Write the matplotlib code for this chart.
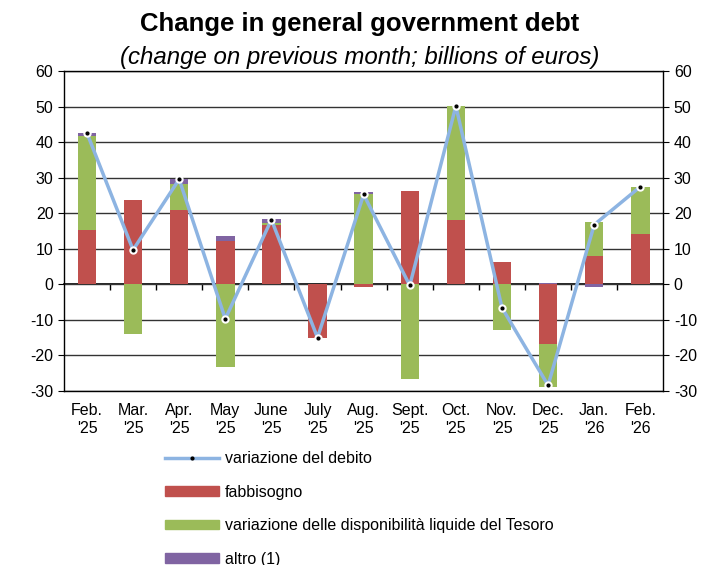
import numpy as np
import matplotlib.pyplot as plt
from matplotlib.lines import Line2D
from matplotlib.patches import Patch

plt.rcParams['font.family'] = ['Liberation Sans', 'DejaVu Sans']
plt.rcParams['axes.unicode_minus'] = False

months = ["Feb.\n'25", "Mar.\n'25", "Apr.\n'25", "May\n'25", "June\n'25", "July\n'25",
          "Aug.\n'25", "Sept.\n'25", "Oct.\n'25", "Nov.\n'25", "Dec.\n'25", "Jan.\n'26", "Feb.\n'26"]
fabbisogno = [15.4, 23.8, 20.8, 12.3, 16.6, -15.0, -0.7, 26.3, 18.1, 6.3, -16.9, 7.9, 14.3]
liquidita = [26.4, -14.1, 7.4, -23.3, 0.7, 0.0, 25.5, -26.6, 32.1, -12.9, -12.0, 9.6, 13.2]
altro = [0.8, 0.0, 1.4, 1.3, 1.0, 0.0, 0.5, 0.0, 0.0, 0.0, 0.5, -0.7, 0.0]
debito = [42.6, 9.7, 29.6, -9.7, 18.2, -15.0, 25.3, -0.3, 50.2, -6.6, -28.4, 16.8, 27.5]

red = '#C0504D'
green = '#9BBB59'
purple = '#8064A2'
blue = '#8DB4E2'

fig = plt.figure(figsize=(7.02, 5.65), dpi=100)
ax = fig.add_axes([0.091, 0.308, 0.854, 0.566])

x = np.arange(len(months))
w = 0.4

# stack positives upward and negatives downward
pos = np.zeros(len(x))
neg = np.zeros(len(x))
for vals, col in [(fabbisogno, red), (liquidita, green), (altro, purple)]:
    v = np.array(vals)
    base = np.where(v >= 0, pos, neg)
    ax.bar(x, v, w, bottom=base, color=col, zorder=2)
    pos = pos + np.where(v >= 0, v, 0)
    neg = neg + np.where(v < 0, v, 0)

ax.plot(x, debito, color=blue, lw=2.5, zorder=3)
ax.plot(x, debito, 'o', ms=5, mfc='white', mec='white', zorder=4)
ax.plot(x, debito, 'o', ms=2, color='black', zorder=5)

ax.set_xlim(-0.5, len(x) - 0.5)
ax.set_ylim(-30, 60)
ax.set_yticks(range(-30, 61, 10))
ax.yaxis.grid(True, color='#333333', lw=1)
ax.set_axisbelow(True)
ax.tick_params(axis='y', labelsize=11.5, right=True, labelright=True, length=4)
ax.set_xticks(x)
ax.set_xticklabels(months, fontsize=11.5, linespacing=1.25)
ax.tick_params(axis='x', length=0, pad=8.5)
for s in ax.spines.values():
    s.set_linewidth(1)

# zero line with ticks between months
zero = ax.secondary_xaxis(1 / 3)
zero.set_xticks(x[:-1] + 0.5)
zero.set_xticklabels([])
zero.tick_params(length=4, width=1, direction='out')
zero.spines['bottom'].set_linewidth(1.2)

fig.text(0.512, 0.958, 'Change in general government debt', ha='center', va='center',
         fontsize=18.5, fontweight='bold')
fig.text(0.512, 0.899, '(change on previous month; billions of euros)', ha='center', va='center',
         fontsize=17.3, style='italic')

handles = [
    Line2D([], [], color=blue, lw=2.5, marker='o', ms=2, mfc='black', mec='black'),
    Patch(color=red), Patch(color=green), Patch(color=purple),
]
labels = ['variazione del debito', 'fabbisogno',
          'variazione delle disponibilità liquide del Tesoro', 'altro (1)']
fig.legend(handles, labels, loc='upper left', bbox_to_anchor=(0.235, 0.201),
           frameon=False, fontsize=11.5, handlelength=3.4, handleheight=0.55,
           labelspacing=1.15, handletextpad=0.33, borderpad=0, borderaxespad=0)

fig.savefig('out.png', dpi=100)
